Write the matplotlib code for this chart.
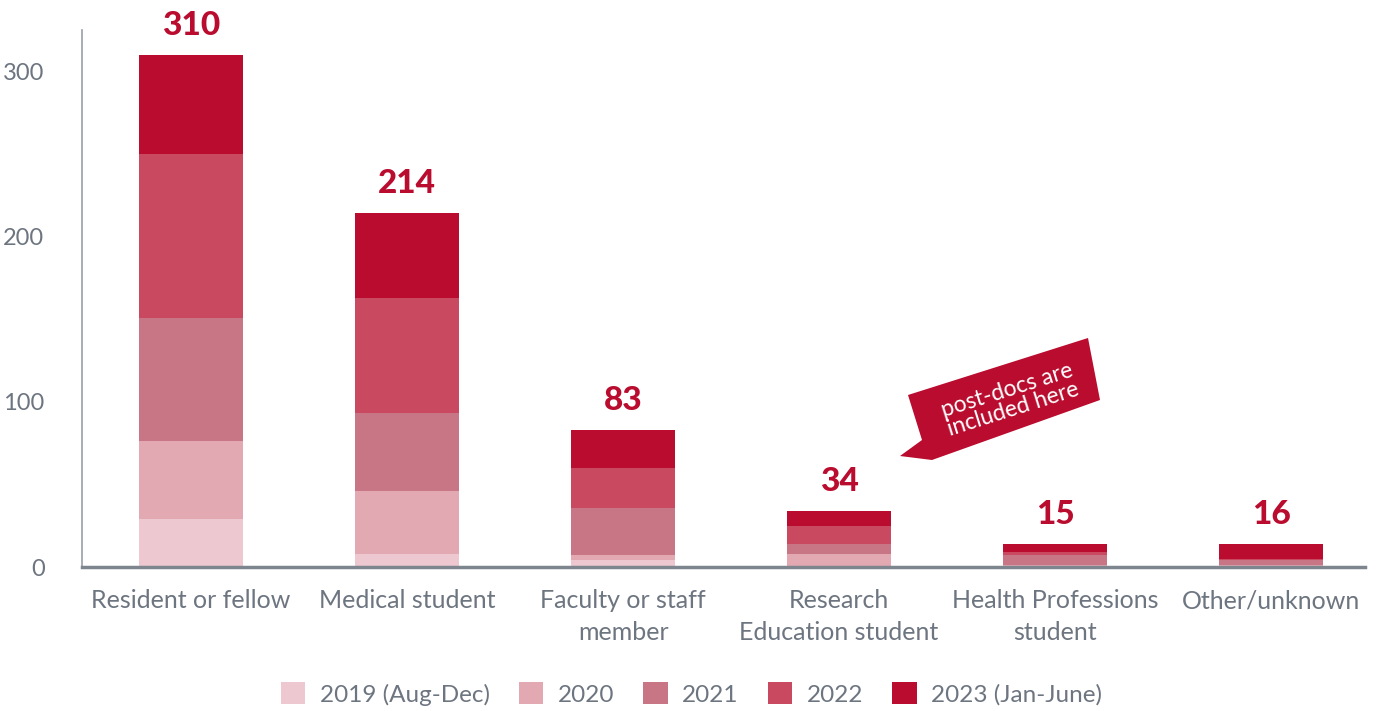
import matplotlib
matplotlib.use("Agg")
import matplotlib.pyplot as plt
from matplotlib.patches import Polygon
import numpy as np

plt.rcParams["font.family"] = ["Lato", "DejaVu Sans"]

categories = ["Resident or fellow", "Medical student", "Faculty or staff\nmember",
              "Research\nEducation student", "Health Professions\nstudent", "Other/unknown"]
series = ["2019 (Aug-Dec)", "2020", "2021", "2022", "2023 (Jan-June)"]
v2019 = [29, 8, 4, 0, 0, 0.5]
v2020 = [47, 38, 3, 8, 1, 0.5]
v2021 = [75, 47, 29, 6, 6, 3]
v2022 = [99, 70, 24, 11, 2, 1]
v2023 = [60, 51, 23, 9, 5, 9]
totals = [310, 214, 83, 34, 15, 16]

colors = ["#edc8d0", "#e3a9b3", "#c87585", "#c94a60", "#b90c2e"]
grey = "#6d7580"
red = "#b90c2e"

W, H = 1383, 711
fig = plt.figure(figsize=(W / 100, H / 100), dpi=100)
ax = fig.add_axes([82 / W, (H - 567) / H, (1365 - 82) / W, (567 - 30) / H])

x = np.arange(len(categories))
bottom = np.zeros(len(categories))
for name, vals, c in zip(series, [v2019, v2020, v2021, v2022, v2023], colors):
    ax.bar(x, vals, width=0.48, bottom=bottom, color=c, label=name, zorder=2)
    bottom += np.array(vals)

for xi, top, t in zip(x, bottom, totals):
    ax.annotate(str(t), (xi, top), xytext=(0, 11), textcoords="offset points",
                ha="center", va="bottom", fontsize=24, fontweight="black", color=red)

ax.set_xlim(-0.505, 5.435)
ax.set_ylim(0, 325)
ax.set_yticks([0, 100, 200, 300])
ax.set_xticks(x)
ax.set_xticklabels(categories, linespacing=1.45)
ax.tick_params(axis="both", length=0, colors=grey)
ax.tick_params(axis="x", labelsize=18, pad=16)
ax.tick_params(axis="y", labelsize=17, pad=27)
for s in ["top", "right"]:
    ax.spines[s].set_visible(False)
ax.spines["left"].set_color("#9aa0a8")
ax.spines["bottom"].set_color("#7d858f")
ax.spines["bottom"].set_linewidth(2.5)
ax.spines["left"].set_linewidth(1.2)

leg = fig.legend(loc="center", bbox_to_anchor=(0.5, (H - 694) / H), ncol=5,
                 frameon=False, fontsize=17.5, handlelength=1.0, handleheight=1.0,
                 columnspacing=1.2, handletextpad=0.6)
for t in leg.get_texts():
    t.set_color(grey)

# callout bubble (figure pixel coordinates)
pts = [(908, 395), (1088, 338), (1100, 400), (932, 460), (900, 456), (922, 440)]
pts = [(px / W, (H - py) / H) for px, py in pts]
fig.patches.append(Polygon(pts, closed=True, transform=fig.transFigure,
                           facecolor=red, edgecolor="none"))
fig.text(1010 / W, (H - 400) / H, "post-docs are\nincluded here", rotation=17.5,
         ha="center", va="center", color="white", fontsize=16.5, linespacing=0.95,
         rotation_mode="anchor")

fig.savefig("out.png", dpi=100)
